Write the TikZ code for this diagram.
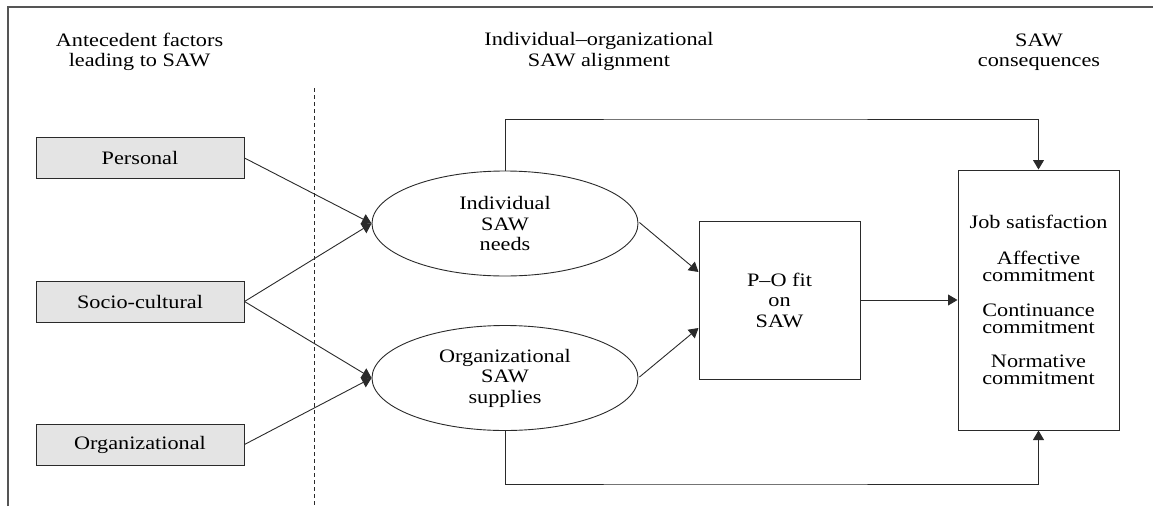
\documentclass[tikz,border=0pt]{standalone}
\usepackage{fontspec}
\setmainfont{Liberation Serif}[FakeStretch=1.17]
\usetikzlibrary{shapes.geometric,arrows.meta}
\definecolor{linec}{HTML}{2A2A2A}
\definecolor{framec}{HTML}{555555}
\definecolor{boxfill}{HTML}{E4E4E4}
\tikzset{
  txt/.style={font=\fontsize{19}{20.5}\selectfont, text=black, align=center, inner sep=0pt},
  antbox/.style={txt, draw=linec, line width=1pt, fill=boxfill, minimum width=208pt, minimum height=41pt},
  ellnode/.style={txt, ellipse, draw=linec, line width=0.9pt, minimum width=266pt, minimum height=105pt},
  rectnode/.style={txt, draw=linec, line width=1pt},
  conn/.style={draw=linec, line width=0.9pt, -{Triangle[length=9.5pt,width=11pt]}},
  plain/.style={draw=linec, line width=0.9pt}
}
\begin{document}
\begin{tikzpicture}[x=1pt,y=-1pt]
\useasboundingbox (0,0) rectangle (1153,506);
% frame
\draw[framec, line width=1.8pt] (8,506) -- (8,7) -- (1153,7);
% titles
\node[txt] (t1) at (139.5,52) {Antecedent factors\\leading to SAW};
\node[txt] (t2) at (599,51.5) {Individual--organizational\\SAW alignment};
\node[txt] (t3) at (1039,52) {SAW\\consequences};
% dashed separator
\coordinate (d1) at (314,88);
\coordinate (d2) at (314,506);
\draw[plain, dash pattern=on 4pt off 3pt] (d1) -- (d2);
% antecedent boxes
\node[antbox] (pers) at (140,158) {Personal};
\node[antbox] (soc) at (140,301.5) {Socio-cultural};
\node[antbox] (org) at (140,444.5) {Organizational};
% ellipses
\node[ellnode] (ind) at (505,223.5) {Individual\\SAW\\needs};
\node[ellnode] (sup) at (505,378) {Organizational\\SAW\\supplies};
% P-O fit
\node[rectnode, minimum width=161pt, minimum height=158pt] (po) at (779.5,300) {P--O fit\\on\\SAW};
% consequences
\node[rectnode, minimum width=161pt, minimum height=260pt] (cons) at (1038.5,300)
  {Job satisfaction\\[15.5pt]Affective\\[-3.5pt]commitment\\[14.5pt]Continuance\\[-3.5pt]commitment\\[13.5pt]Normative\\[-3pt]commitment};
% connectors
\draw[conn] (pers.east) -- (ind.west);
\draw[conn] (soc.east) -- (ind.west);
\draw[conn] (soc.east) -- (sup.west);
\draw[conn] (org.east) -- (sup.west);
\draw[conn] (ind.east) ++(1,-1) coordinate (ie) -- ([yshift=28pt]po.west);
\draw[conn] (sup.east) ++(1,-1) coordinate (se) -- ([yshift=-28pt]po.west);
\draw[conn] (po.east) -- (cons.west);
\coordinate (tl) at (700,119);
\coordinate (bl) at (700,484);
\draw[conn] (ind.north) |- (tl) -| (cons.north);
\draw[conn] (sup.south) |- (bl) -| (cons.south);
\end{tikzpicture}
\end{document}
